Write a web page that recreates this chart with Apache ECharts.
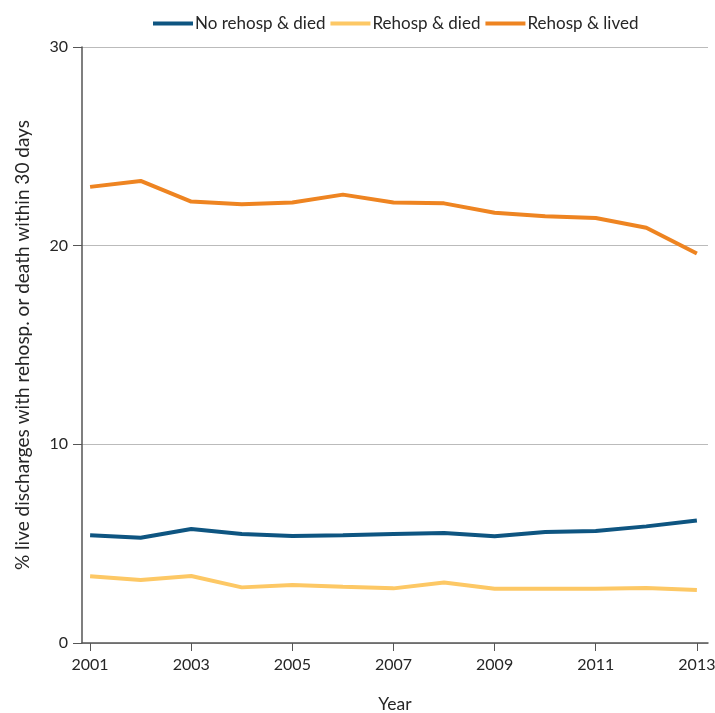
<!DOCTYPE html>
<html><head><meta charset="utf-8">
<script src="https://cdn.jsdelivr.net/npm/echarts@6/dist/echarts.min.js"></script>
<style>html,body{margin:0;padding:0;background:#fff}#c{width:715px;height:713px}</style>
</head><body><div id="c"></div>
<script>
const years = [2001,2002,2003,2004,2005,2006,2007,2008,2009,2010,2011,2012,2013];
const noRehospDied = [5.42,5.30,5.74,5.49,5.39,5.42,5.49,5.54,5.37,5.59,5.64,5.87,6.17];
const rehospDied = [3.36,3.17,3.37,2.80,2.92,2.83,2.75,3.04,2.73,2.73,2.73,2.77,2.67];
const rehospLived = [22.96,23.26,22.22,22.09,22.17,22.57,22.17,22.13,21.66,21.48,21.39,20.90,19.61];
const xTicks = [2001,2003,2005,2007,2009,2011,2013];
const seriesNames = ['No rehosp & died','Rehosp & died','Rehosp & lived'];
const colors = ['#0e5581','#fdc865','#ee8421'];
const font = 'Lato';
const txt = '#262626';
const chart = echarts.init(document.getElementById('c'));
const mk = (name, vals, color) => ({
  name, type:'line', data: years.map((y,i)=>[y, vals[i]]),
  showSymbol:false, symbol:'none', lineStyle:{width:4,color}, itemStyle:{color}
});
chart.setOption({
  animation:false,
  textStyle:{fontFamily:font},
  legend:{top:10, left:148, icon:'rect', itemWidth:40, itemHeight:4, itemGap:5,
    textStyle:{fontFamily:font, fontSize:17, color:txt, padding:[0,0,0,-3]},
    data:seriesNames},
  grid:{left:82, right:7, top:47, bottom:70, containLabel:false, outerBoundsMode:'none'},
  xAxis:{type:'value', min:2000.84, max:2013.22,
    name:'Year', nameLocation:'middle', nameGap:52,
    nameTextStyle:{fontFamily:font, fontSize:17.5, color:txt},
    axisLine:{show:true, lineStyle:{color:'#555', width:1.5}},
    axisTick:{show:true, length:8, customValues:xTicks, lineStyle:{color:'#555'}},
    axisLabel:{customValues:xTicks, fontFamily:font, fontSize:16, color:txt, margin:14,
      formatter:v=>String(v)},
    splitLine:{show:false}},
  yAxis:{type:'value', min:0, max:30, interval:10,
    name:'% live discharges with rehosp. or death within 30 days', nameLocation:'middle', nameGap:50,
    nameTextStyle:{fontFamily:font, fontSize:19, color:txt},
    axisLine:{show:true, lineStyle:{color:'#555', width:1.5}},
    axisTick:{show:true, length:9, lineStyle:{color:'#555'}},
    axisLabel:{fontFamily:font, fontSize:16, color:txt, margin:14},
    splitLine:{show:true, lineStyle:{color:'#bbb', width:1}}},
  series:[mk(seriesNames[0], noRehospDied, colors[0]), mk(seriesNames[1], rehospDied, colors[1]), mk(seriesNames[2], rehospLived, colors[2])]
});
</script></body></html>
